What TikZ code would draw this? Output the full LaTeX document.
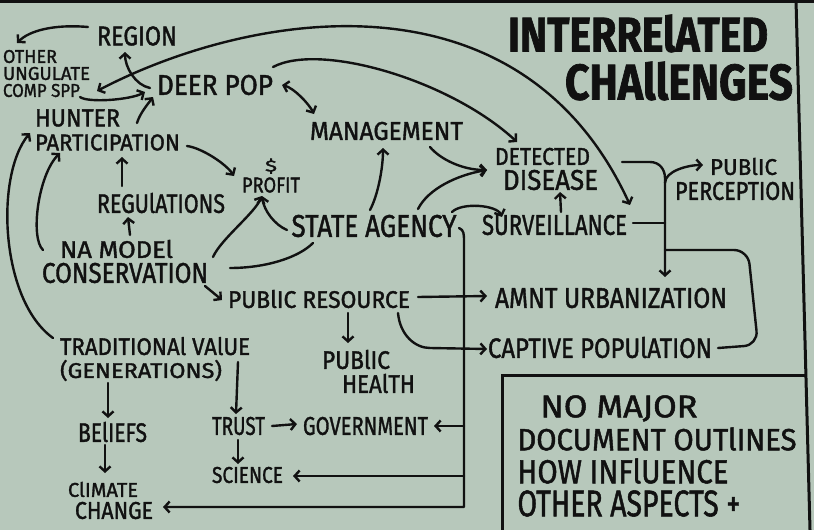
\documentclass[tikz,border=0pt]{standalone}
\usepackage{fontspec}
\setmainfont{Fira Sans}[FakeBold=1.5]
\usepackage{graphicx}
\usetikzlibrary{arrows.meta,calc}
\definecolor{bg}{RGB}{183,200,187}
\definecolor{ink}{RGB}{17,17,17}
\newcommand\rz[3]{\resizebox{#1pt}{#2pt}{#3}}
\begin{document}
\begin{tikzpicture}[x=1pt,y=-1pt,
  >={Straight Barb[length=5pt,width=11pt]},
  lab/.style={inner sep=0pt, outer sep=0pt, text=ink, align=left},
  con/.style={draw=ink, line width=2.4pt, line cap=round, line join=round},
  frame/.style={draw=ink, line width=3pt}]
\fill[bg] (0,0) rectangle (814,530);
\useasboundingbox (0,0) rectangle (814,530);
\fill[ink] (0,0) rectangle (814,2.5);
\draw[frame] (796,0) -- (810,530);
\draw[frame] (502,530) -- (502,375) -- (806,375);

% nodes
\node[lab] (region) at (137,36) {\rz{80}{19}{REGION}};
\node[lab, font=\fontsize{10}{17}\selectfont] (other) at (46.5,73.5) {\rz{54}{13}{OTHER}\\\rz{87}{13}{UNGULATE}\\\rz{77}{13}{COMP SPP}};
\node[lab] (deer) at (215,85) {\rz{116}{20}{DEER POP}};
\node[lab, font=\fontsize{10}{24}\selectfont] (hunter) at (107.5,130) {\rz{85}{17}{HUNTER}\\\rz{145}{16}{PARTICIPATION}};
\node[lab] (mgmt) at (386.5,131) {\rz{153}{18}{MANAGEMENT}};
\node[lab, align=center, font=\fontsize{10}{21}\selectfont] (profit) at (271,175.5) {\rz{12}{13}{\$}\\\rz{58}{15}{PROFIT}};
\node[lab, font=\fontsize{10}{25}\selectfont] (dd) at (546.5,169) {\rz{95}{17}{DETECTED}\\\hspace*{8pt}\rz{95}{20}{DISEASE}};
\node[lab, font=\fontsize{10}{25}\selectfont] (pp) at (735,179) {\hspace*{35pt}\rz{67}{17}{PUBlIC}\\\rz{120}{18}{PERCEPTION}};
\node[lab] (reg) at (161,203) {\rz{128}{20}{REGUlATIONS}};
\node[lab] (sa) at (374,226) {\rz{165}{22}{STATE AGENCY}};
\node[lab] (surv) at (554.5,225) {\rz{145}{20}{SURVEILLANCE}};
\node[lab, font=\fontsize{10}{25}\selectfont] (na) at (125,261.5) {\hspace*{18pt}\rz{113}{18}{NA MODEl}\\\rz{166}{20}{CONSERVATION}};
\node[lab] (pr) at (319,299) {\rz{182}{18}{PUBlIC RESOURCE}};
\node[lab] (amnt) at (611,298) {\rz{232}{20}{AMNT URBANIZATION}};
\node[lab] (cap) at (600,347.5) {\rz{224}{21}{CAPTIVE POPUlATION}};
\node[lab, font=\fontsize{10}{23}\selectfont] (trad) at (155,359) {\rz{190}{18}{TRADITIONAl VAlUE}\\\rz{162}{18}{(GENERATIONS)}};
\node[lab, font=\fontsize{10}{24}\selectfont] (ph) at (368.5,371.5) {\rz{68}{19}{PUBlIC}\\\hspace*{20pt}\rz{73}{19}{HEAlTH}};
\node[lab] (bel) at (112.5,432) {\rz{69}{20}{BElIEFS}};
\node[lab] (trust) at (238.5,426) {\rz{53}{18}{TRUST}};
\node[lab] (gov) at (365.5,426) {\rz{125}{18}{GOVERNMENT}};
\node[lab] (sci) at (247.5,475) {\rz{71}{16}{SCIENCE}};
\node[lab, font=\fontsize{10}{22}\selectfont] (cc) at (110.5,500.5) {\rz{70}{15}{ClIMATE}\\\hspace*{7pt}\rz{78}{17}{CHANGE}};
\node[lab, font=\fontsize{10}{48}\selectfont\bfseries] (title) at (650.5,57.5) {\rz{260}{37}{INTERRElATED}\\\hspace*{57pt}\rz{228}{38}{CHAllENGES}};
\node[lab, font=\fontsize{10}{33}\selectfont] (note) at (657,456) {\hspace*{23pt}\rz{157}{22}{NO MAJOR}\\\rz{279}{23}{DOCUMENT OUTlINES}\\\rz{211}{25}{HOW INFlUENCE}\\\rz{223}{26}{OTHER ASPECTS +}};

% connectors
\draw[con,->] ($(region)+(-49,-9)$) .. controls +(-35,-3) and +(12,-12) .. ($(other)+(-29.5,-30.5)$);
\draw[con,->] ($(deer)+(-65,3)$) .. controls +(-15,-3) and +(0,15) .. ($(region)+(-12,16)$);
\draw[con,->] ($(other)+(33.5,23.5)$) .. controls +(8,6) and +(-15,8) .. ($(deer)+(-70,7)$);
\draw[con,->] ($(hunter)+(29.5,-7)$) .. controls +(3,-10) and +(-5,7) .. ($(deer)+(-62,12)$);
\draw[con,<->] ($(other)+(50.5,17.5)$) .. controls +(153,-80) and +(-110,-240) .. ($(surv)+(75.5,-20)$);
\draw[con,->] ($(deer)+(58,-18)$) .. controls +(47,-25) and +(-67,-62) .. ($(dd)+(-29.5,-27)$);
\draw[con,<->] ($(deer)+(67,0)$) .. controls +(12,3) and +(-5,-10) .. ($(mgmt)+(-72.5,-17)$);
\draw[con,->] ($(hunter)+(79.5,16)$) .. controls +(15,2) and +(-8,-12) .. ($(profit)+(-37,0.5)$);
\draw[con,->] ($(reg)+(-39,-17)$) -- ($(hunter)+(14.5,27)$);
\draw[con,->] ($(na)+(-82,-11.5)$) .. controls +(-13,-12) and +(-22,22) .. ($(hunter)+(-47.5,23)$);
\draw[con,->] ($(trad)+(-102,-21)$) .. controls +(-53,-38) and +(-35,42) .. ($(hunter)+(-77.5,3)$);
\draw[con,->] ($(na)+(5,-26.5)$) -- ($(reg)+(-33,14)$);
\draw[con,->] ($(na)+(88,-4.5)$) .. controls +(8,-18) and +(-8,18) .. ($(profit)+(-9,20.5)$);
\draw[con,->] ($(sa)+(-87,4)$) .. controls +(-12,-5) and +(2,15) .. ($(profit)+(-9,20.5)$);
\draw[con] ($(na)+(105,6.5)$) .. controls +(35,0) and +(-15,15) .. ($(sa)+(-61,17)$);
\draw[con,->] ($(sa)+(-4,-16)$) .. controls +(8,-15) and +(0,20) .. ($(mgmt)+(-3.5,17)$);
\draw[con,->] ($(sa)+(44,-17)$) .. controls +(10,-20) and +(-30,5) .. ($(dd)+(-59.5,1)$);
\draw[con,->] ($(mgmt)+(43.5,16)$) .. controls +(10,12) and +(-25,0) .. ($(dd)+(-59.5,1)$);
\draw[con,->] ($(sa)+(78,-14)$) .. controls +(10,-10) and +(-5,-12) .. ($(surv)+(-52.5,-8)$);
\draw[con,->] ($(surv)+(6.5,-13)$) -- ($(dd)+(13.5,23)$);
% state agency bus
\draw[con,->] ($(sa)+(85,2)$) .. controls +(5,2) and +(0,-8) .. ($(sa)+(90,16)$) -- ($(sa)+(90,281)$) -- ($(cc)+(52.5,6.5)$);
\draw[con,->] ($(sa)+(90,200)$) -- ($(gov)+(68.5,0)$);
\draw[con,->] ($(sa)+(90,250)$) -- ($(sci)+(45.5,1)$);
% right bus
\draw[con,->] ($(dd)+(75.5,-7)$) -- ++(28,0) .. controls +(10,0) and +(0,-8) .. ++(15,16) -- ($(amnt)+(54,-21)$);
\draw[con,->] ($(dd)+(118.5,14)$) .. controls +(0,-12) and +(-15,0) .. ($(pp)+(-32,-14)$);
\draw[con] ($(surv)+(78.5,-2)$) -- ($(surv)+(110.5,-2)$);
\draw[con, rounded corners=14pt] ($(cap)+(118,0.5)$) -- ++(40,-3) -- ++(-10,-95) -- ($(amnt)+(54,-48)$);
% public resource
\draw[con,->] ($(pr)+(99,-2)$) -- ($(amnt)+(-124,-2)$);
\draw[con,->] ($(pr)+(79,14)$) .. controls +(2,22) and +(-15,0) .. ++(32,35) -- ($(cap)+(-113,1.5)$);
\draw[con,->] ($(pr)+(29,14)$) -- ($(ph)+(-20.5,-28.5)$);
\draw[con,->] ($(na)+(80,24.5)$) -- ($(pr)+(-97,1)$);
% lower left
\draw[con,->] ($(trad)+(-47,24)$) -- ($(bel)+(-4.5,-14)$);
\draw[con,->] ($(bel)+(-7.5,13)$) -- ($(cc)+(-5.5,-27.5)$);
\draw[con,->] ($(trad)+(83,3)$) -- ($(trust)+(-2.5,-12)$);
\draw[con,->] ($(trust)+(33.5,0)$) -- ($(gov)+(-68.5,-2)$);
\draw[con,->] ($(trust)+(-0.5,14)$) -- ($(sci)+(-9.5,-11)$);
\end{tikzpicture}
\end{document}
